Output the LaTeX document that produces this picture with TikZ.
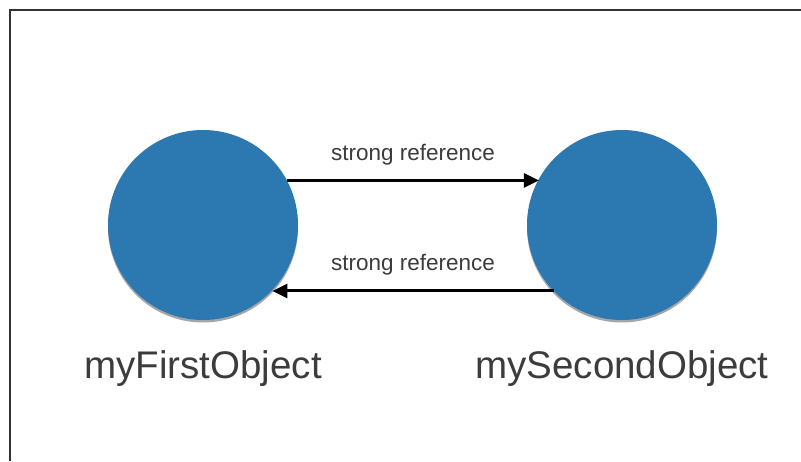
\documentclass[tikz,border=0pt]{standalone}
\usepackage{fontspec}
\setmainfont{Liberation Sans}
\usetikzlibrary{arrows.meta,shadows}
\definecolor{ballblue}{RGB}{44,120,176}
\definecolor{txtgray}{RGB}{60,60,60}
\tikzset{
  ball/.style={circle,fill=ballblue,minimum size=190pt,inner sep=0pt,outer sep=0pt,
    drop shadow={shadow xshift=0pt,shadow yshift=-2.5pt,opacity=0.35,fill=black}},
  biglabel/.style={anchor=base,text=txtgray,font=\fontsize{38.5}{42}\selectfont,inner sep=0pt},
  smalllabel/.style={anchor=base,text=txtgray,font=\fontsize{22.5}{26}\selectfont,inner sep=0pt},
  refarrow/.style={-{Triangle[length=15pt,width=14pt]},line width=3pt,black}
}
\begin{document}
\begin{tikzpicture}[x=1pt,y=-1pt]
\useasboundingbox (0,0) rectangle (801,461);
\fill[white] (0,0) rectangle (801,461);
\draw[line width=2pt,color={rgb,255:red,50;green,50;blue,50}] (10,461) -- (10,10) -- (801,10);
\node[ball] (a) at (203,225) {};
\node[ball] (b) at (622,225) {};
\draw[refarrow] (a.28.27) -- (a.28.27 -| b.151.73);
\draw[refarrow] (b.-136.84) -- (b.-136.84 -| a.-43.16);
\node[smalllabel] (l1) at (413,160) {strong reference};
\node[smalllabel] (l2) at (413,270) {strong reference};
\node[biglabel] (n1) at (203,378) {myFirstObject};
\node[biglabel] (n2) at (622,378) {mySecondObject};
\end{tikzpicture}
\end{document}
